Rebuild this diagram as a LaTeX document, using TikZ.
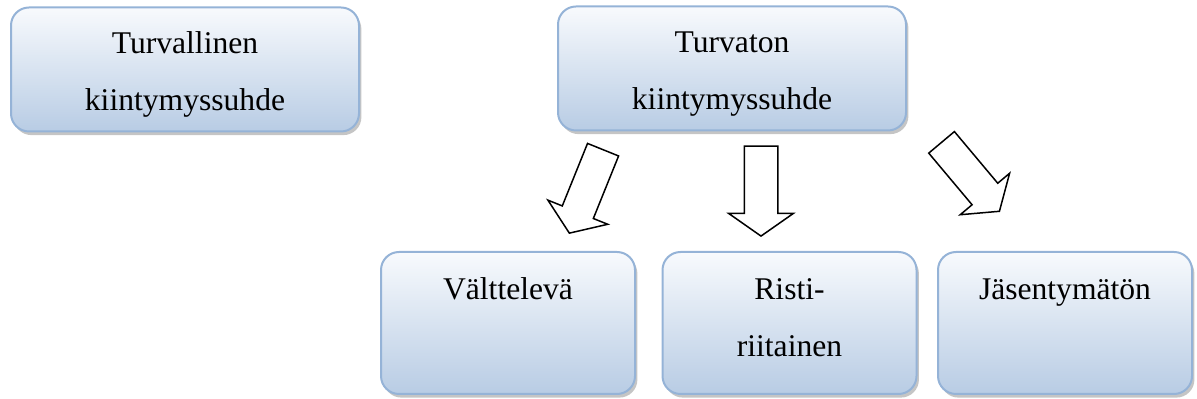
\documentclass[tikz,border=0pt]{standalone}
\usepackage{fontspec}
\setmainfont{Liberation Serif}
\usetikzlibrary{shapes.arrows,shadows}

\definecolor{boxtop}{HTML}{F8FAFD}
\definecolor{boxbottom}{HTML}{B8CCE4}
\definecolor{boxline}{HTML}{95B3D7}

\tikzstyle{bigbox} = [draw=boxline,line width=1pt,rounded corners=9pt,top color=boxtop,bottom color=boxbottom,
	drop shadow={fill=black!45,shadow xshift=1.2pt,shadow yshift=-1.8pt},
	inner sep=0pt,align=center,font=\fontsize{15.8pt}{28.5pt}\selectfont]
\tikzstyle{upper} = [bigbox,text width=174pt,text height=23pt,text depth=39pt]
\tikzstyle{lower} = [bigbox,text width=127pt,text height=24pt,text depth=47pt]
\tikzstyle{blockarrow} = [draw=black,line width=0.75pt,fill=white,single arrow,inner xsep=0pt,inner ysep=8pt,
	minimum height=45pt,single arrow head extend=7.75pt,single arrow tip angle=110,anchor=tip]

\begin{document}
\begin{tikzpicture}[x=0.5pt,y=-0.5pt]
	\useasboundingbox (0,0) rectangle (1197,399);
	% attachment styles
	\node (secure) [upper] at (185,69.5) {Turvallinen\\kiintymyssuhde};
	\node (insecure) [upper] at (732,68.5) {Turvaton\\kiintymyssuhde};
	% insecure subtypes
	\node (avoidant) [lower] at (508,323) {Välttelevä};
	\node (ambivalent) [lower] at (789.5,323) {Risti-\\riitainen};
	\node (disorganised) [lower] at (1065,323) {Jäsentymätön};
	% arrows
	\node (arrow1) [blockarrow,rotate=-112] at (569,234) {};
	\node (arrow2) [blockarrow,rotate=-90] at (761,237) {};
	\node (arrow3) [blockarrow,rotate=-50] at (1000,212) {};
\end{tikzpicture}
\end{document}
